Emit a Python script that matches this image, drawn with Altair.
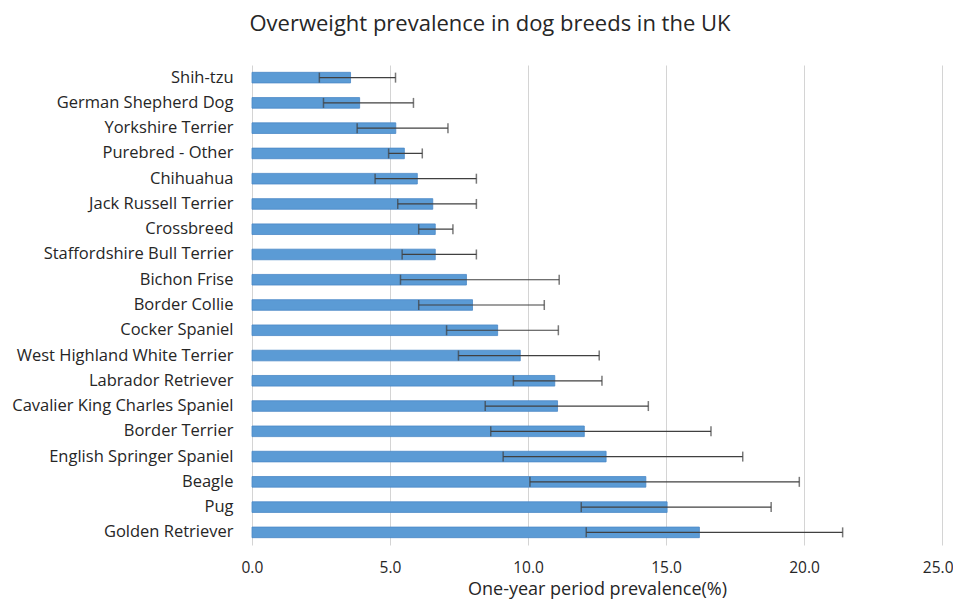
import altair as alt
import pandas as pd

breeds = [
    "Shih-tzu", "German Shepherd Dog", "Yorkshire Terrier", "Purebred - Other",
    "Chihuahua", "Jack Russell Terrier", "Crossbreed", "Staffordshire Bull Terrier",
    "Bichon Frise", "Border Collie", "Cocker Spaniel", "West Highland White Terrier",
    "Labrador Retriever", "Cavalier King Charles Spaniel", "Border Terrier",
    "English Springer Spaniel", "Beagle", "Pug", "Golden Retriever",
]
prevalence = [3.57, 3.90, 5.21, 5.52, 5.99, 6.55, 6.64, 6.64, 7.77, 7.99,
              8.90, 9.72, 10.97, 11.07, 12.04, 12.83, 14.27, 15.04, 16.21]
ci_lower = [2.44, 2.59, 3.81, 4.95, 4.46, 5.28, 6.04, 5.44, 5.38, 6.04,
            7.05, 7.48, 9.47, 8.45, 8.65, 9.10, 10.07, 11.93, 12.11]
ci_upper = [5.20, 5.85, 7.10, 6.17, 8.13, 8.13, 7.28, 8.13, 11.13, 10.59,
            11.10, 12.58, 12.68, 14.36, 16.63, 17.78, 19.83, 18.81, 21.40]
x_ticks = [0, 5, 10, 15, 20, 25]

df = pd.DataFrame({"breed": breeds, "prev": prevalence, "lo": ci_lower, "hi": ci_upper})

FONT = "Open Sans"
TXT = "#262626"
y_enc = alt.Y("breed:N", sort=breeds, title=None,
              scale=alt.Scale(paddingInner=0.58, paddingOuter=0.29),
              axis=alt.Axis(domain=False, ticks=False, labelPadding=19, labelFontSize=16.5,
                            labelFont=FONT, labelColor=TXT, grid=False, labelLimit=400))
x_scale = alt.Scale(domain=[0, 25], nice=False)
x_axis = alt.Axis(values=x_ticks, format=".1f", domain=False, ticks=False,
                  grid=True, gridColor="#d4d4d4", gridWidth=1,
                  labelFlush=True, labelFlushOffset=11,
                  labelPadding=15, labelFontSize=15.5, labelFont=FONT, labelColor=TXT,
                  title="One-year period prevalence(%)", titleFont=FONT, titleFontSize=18,
                  titleFontWeight="normal", titleColor=TXT, titlePadding=5)

base = alt.Chart(df)
bars = base.mark_bar(color="#5b9bd5", stroke="#4a88c7", strokeWidth=0.8).encode(
    x=alt.X("prev:Q", scale=x_scale, axis=x_axis), y=y_enc)
rule = base.mark_rule(color="#404040", strokeWidth=1.2).encode(
    x=alt.X("lo:Q", scale=x_scale), x2="hi:Q", y=alt.Y("breed:N", sort=breeds))
cap_lo = base.mark_tick(color="#404040", thickness=1.5, size=10).encode(
    x=alt.X("lo:Q", scale=x_scale), y=alt.Y("breed:N", sort=breeds))
cap_hi = base.mark_tick(color="#404040", thickness=1.5, size=10).encode(
    x=alt.X("hi:Q", scale=x_scale), y=alt.Y("breed:N", sort=breeds))

chart = alt.layer(bars, rule, cap_lo, cap_hi).properties(
    width=690, height=480,
    background="white",
    title=alt.TitleParams("Overweight prevalence in dog breeds in the UK",
                          font=FONT, fontSize=22, fontWeight="normal", color=TXT,
                          anchor="middle", dx=-107, offset=29),
    autosize=alt.AutoSizeParams(type="none"),
    padding={"left": 244, "top": 57, "right": 11, "bottom": 57},
).configure_view(stroke=None)

chart.save("out.html", embed_options={"renderer": "svg", "actions": False})
